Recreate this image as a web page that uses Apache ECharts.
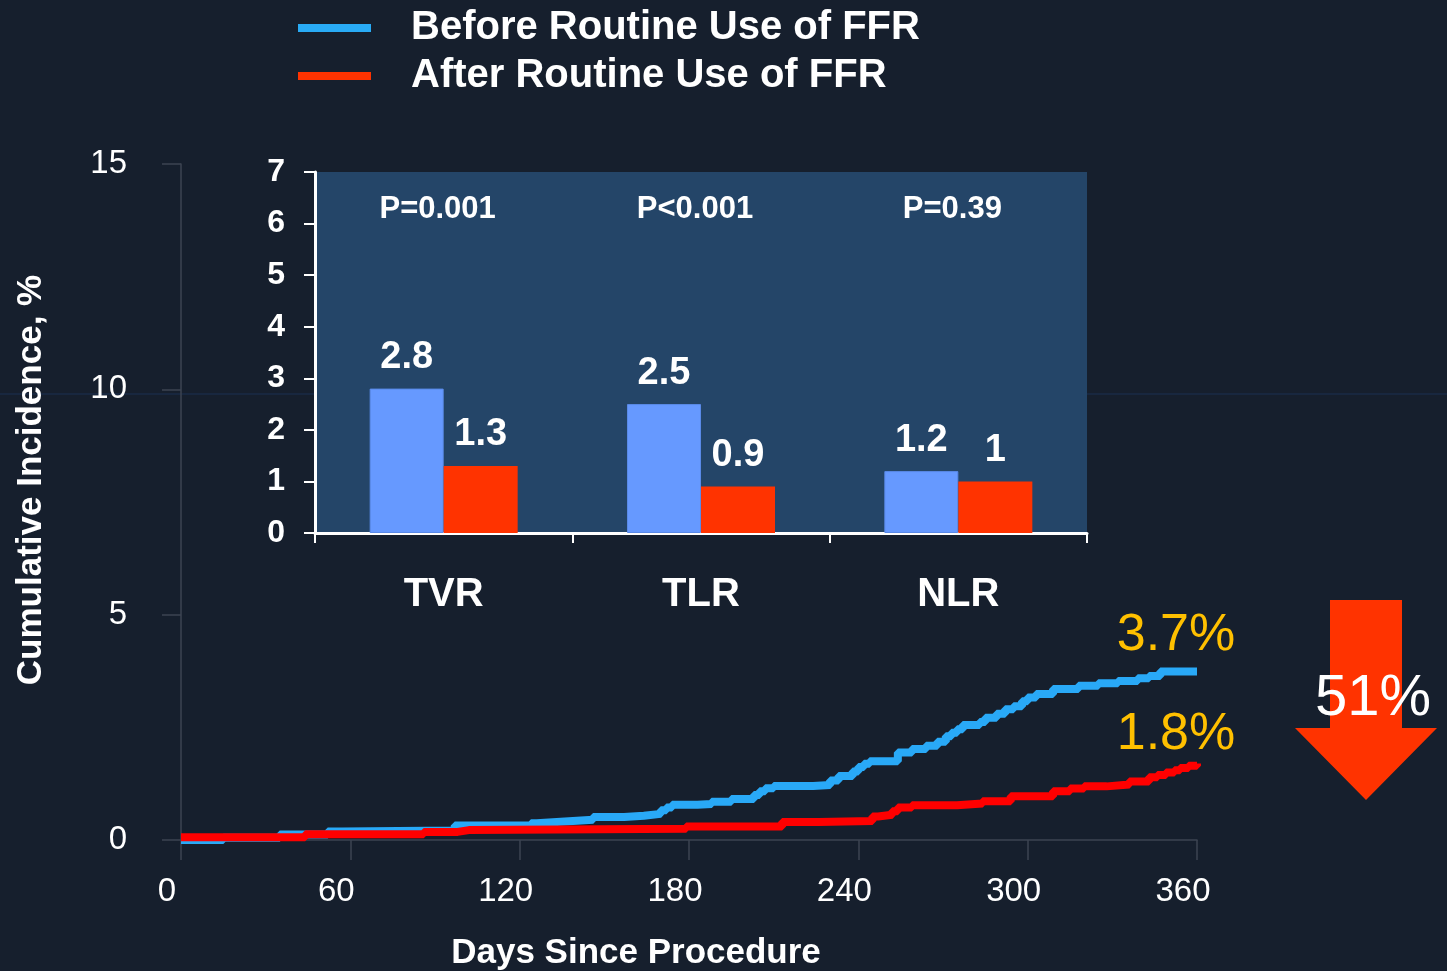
<!DOCTYPE html>
<html>
<head>
<meta charset="utf-8">
<title>FFR cumulative incidence</title>
<script src="https://cdn.jsdelivr.net/npm/echarts@6/dist/echarts.min.js"></script>
<style>
  html, body { margin: 0; padding: 0; background: #161f2d; }
  #chart { width: 1447px; height: 971px; }
</style>
</head>
<body>
<div id="chart"></div>
<script>
// main KM curves (days, cumulative incidence %)
var beforeDays = [0, 15, 35, 52, 57, 97, 124, 126, 136, 146, 157, 164, 170, 172, 174, 183, 188, 195, 203, 205, 207, 210, 224, 230, 233, 238, 240, 242, 244, 254, 259, 264, 268, 271, 273, 275, 277, 283, 285, 289, 292, 295, 298, 300, 303, 309, 318, 325, 332, 339, 343, 347, 360];
var beforeVals = [0.00, 0.05, 0.12, 0.19, 0.21, 0.32, 0.37, 0.41, 0.45, 0.51, 0.54, 0.58, 0.66, 0.72, 0.78, 0.80, 0.85, 0.91, 1.00, 1.08, 1.15, 1.20, 1.22, 1.32, 1.42, 1.52, 1.62, 1.69, 1.75, 1.94, 2.02, 2.09, 2.18, 2.30, 2.38, 2.46, 2.55, 2.62, 2.71, 2.80, 2.90, 2.97, 3.08, 3.16, 3.24, 3.35, 3.42, 3.48, 3.53, 3.59, 3.64, 3.74, 3.74];
var afterDays = [0, 44, 86, 98, 102, 179, 213, 226, 245, 247, 252, 254, 259, 275, 284, 294, 309, 315, 320, 328, 336, 343, 346, 349, 352, 354, 357, 360];
var afterVals = [0.06, 0.13, 0.18, 0.22, 0.25, 0.30, 0.40, 0.42, 0.52, 0.56, 0.64, 0.72, 0.77, 0.81, 0.86, 0.97, 1.08, 1.14, 1.19, 1.23, 1.30, 1.39, 1.44, 1.50, 1.55, 1.60, 1.65, 1.70];
var endLabels = ['3.7%', '1.8%'];
var xTicks = [0, 60, 120, 180, 240, 300, 360];
var yTicks = [0, 5, 10, 15];

// inset bars
var barCats = ['TVR', 'TLR', 'NLR'];
var barBefore = [2.8, 2.5, 1.2];
var barAfter = [1.3, 0.9, 1];
var pValues = ['P=0.001', 'P<0.001', 'P=0.39'];
var reduction = '51%';

var names = ['Before Routine Use of FFR', 'After Routine Use of FFR'];
var font = "'Liberation Sans', Arial, sans-serif";

function pairs(xs, ys) {
    return xs.map(function (x, i) { return [x, ys[i]]; });
}

var chart = echarts.init(document.getElementById('chart'));
var last = beforeDays.length - 1, lastA = afterDays.length - 1;

var option = {
    backgroundColor: '#161f2d',
    animation: false,
    textStyle: { fontFamily: font },
    legend: {
        data: names,
        orient: 'vertical',
        left: 293,
        top: 3,
        icon: 'rect',
        itemWidth: 73,
        itemHeight: 8,
        itemGap: 8,
        selectedMode: false,
        textStyle: { color: '#fff', fontSize: 40, fontWeight: 'bold', fontFamily: font, padding: [0, 0, 0, 35] }
    },
    grid: [
        { left: 181, right: 250, top: 164, bottom: 131, outerBoundsMode: 'none' },
        { left: 315, right: 360, top: 172, bottom: 438, show: true, backgroundColor: '#244568', borderWidth: 0, outerBoundsMode: 'none' }
    ],
    xAxis: [{
        gridIndex: 0,
        type: 'value',
        min: xTicks[0], max: xTicks[xTicks.length - 1], interval: 60,
        axisLine: { lineStyle: { color: '#3c4452', width: 1.5 } },
        axisTick: { show: true, length: 20, lineStyle: { color: '#3c4452', width: 1.5 } },
        splitLine: { show: false },
        axisLabel: { color: '#fff', fontSize: 33, margin: 35, padding: [0, 28, 0, 0] },
        name: 'Days Since Procedure',
        nameLocation: 'middle',
        nameGap: 96,
        nameTextStyle: { color: '#fff', fontSize: 35, fontWeight: 'bold', padding: [0, 106, 0, 0] }
    }, {
        gridIndex: 1,
        type: 'category',
        data: barCats,
        axisLine: { lineStyle: { color: '#fff', width: 3 } },
        axisTick: { show: true, length: 10, lineStyle: { color: '#fff', width: 2 } },
        axisLabel: { color: '#fff', fontSize: 40, fontWeight: 'bold', margin: 42 }
    }],
    yAxis: [{
        gridIndex: 0,
        type: 'value',
        min: yTicks[0], max: yTicks[yTicks.length - 1], interval: 5,
        axisLine: { show: true, lineStyle: { color: '#3c4452', width: 1.5 } },
        axisTick: { show: true, length: 19, lineStyle: { color: '#3c4452', width: 1.5 } },
        splitLine: { show: false },
        axisLabel: { color: '#fff', fontSize: 33, margin: 54 },
        name: 'Cumulative Incidence, %',
        nameLocation: 'middle',
        nameGap: 132,
        nameTextStyle: { color: '#fff', fontSize: 35, fontWeight: 'bold', padding: [0, 0, 0, 44] }
    }, {
        gridIndex: 1,
        type: 'value',
        min: 0, max: 7, interval: 1,
        axisLine: { show: true, lineStyle: { color: '#fff', width: 3 } },
        axisTick: { show: true, length: 11, lineStyle: { color: '#fff', width: 2 } },
        splitLine: { show: false },
        axisLabel: { color: '#fff', fontSize: 32, fontWeight: 'bold', margin: 30 }
    }],
    series: [{
        name: names[0],
        type: 'line',
        xAxisIndex: 0, yAxisIndex: 0,
        step: 'end',
        symbol: 'none',
        data: pairs(beforeDays, beforeVals),
        itemStyle: { color: '#29abf5' },
        lineStyle: { color: '#29a9f7', width: 8 },
        markPoint: {
            symbol: 'circle', symbolSize: 0,
            label: { show: true, position: 'inside', offset: [-21, -36], color: '#ffc000', fontSize: 52, formatter: endLabels[0] },
            data: [{ coord: [beforeDays[last], beforeVals[last]] }]
        }
    }, {
        name: names[1],
        type: 'line',
        xAxisIndex: 0, yAxisIndex: 0,
        step: 'end',
        symbol: 'none',
        data: pairs(afterDays, afterVals),
        itemStyle: { color: '#ff3300' },
        lineStyle: { color: '#ff0000', width: 8 },
        markPoint: {
            symbol: 'circle', symbolSize: 0,
            label: { show: true, position: 'inside', offset: [-21, -29], color: '#ffc000', fontSize: 52, formatter: endLabels[1] },
            data: [{ coord: [afterDays[lastA], afterVals[lastA]] }]
        }
    }, {
        name: 'barBefore',
        type: 'bar',
        xAxisIndex: 1, yAxisIndex: 1,
        data: barBefore,
        barWidth: 74,
        barGap: '0%',
        itemStyle: { color: '#6699ff', borderColor: '#5a8ae8', borderWidth: 1 },
        label: { show: true, position: 'top', distance: 12, color: '#fff', fontSize: 38, fontWeight: 'bold' }
    }, {
        name: 'barAfter',
        type: 'bar',
        xAxisIndex: 1, yAxisIndex: 1,
        data: barAfter,
        barWidth: 74,
        barGap: '0%',
        itemStyle: { color: '#ff3300' },
        label: { show: true, position: 'top', distance: 12, color: '#fff', fontSize: 38, fontWeight: 'bold' }
    }, {
        name: 'pValues',
        type: 'scatter',
        xAxisIndex: 1, yAxisIndex: 1,
        symbolSize: 0,
        itemStyle: { opacity: 1 },
        data: barCats.map(function (c) { return [c, 6.27]; }),
        label: {
            show: true, position: 'inside', offset: [-6, 0], opacity: 1,
            color: '#ffffff', fontSize: 31, fontWeight: 'bold',
            formatter: function (p) { return pValues[p.dataIndex]; }
        }
    }],
    graphic: [{
        type: 'line', z: -10, silent: true,
        shape: { x1: 0, y1: 394, x2: 1447, y2: 394 },
        style: { stroke: '#1b3152', lineWidth: 1 }
    }, {
        type: 'polygon',
        shape: { points: [[1330, 600], [1402, 600], [1402, 728], [1437, 728], [1366, 800], [1295, 728], [1330, 728]] },
        style: { fill: '#ff3300' }
    }, {
        type: 'text', z: 100,
        x: 1373, y: 699,
        style: { text: reduction, fill: '#fff', fontSize: 58, fontFamily: font, align: 'center', verticalAlign: 'middle' }
    }]
};

chart.setOption(option);
window.addEventListener('resize', function () { chart.resize(); });
</script>
</body>
</html>
